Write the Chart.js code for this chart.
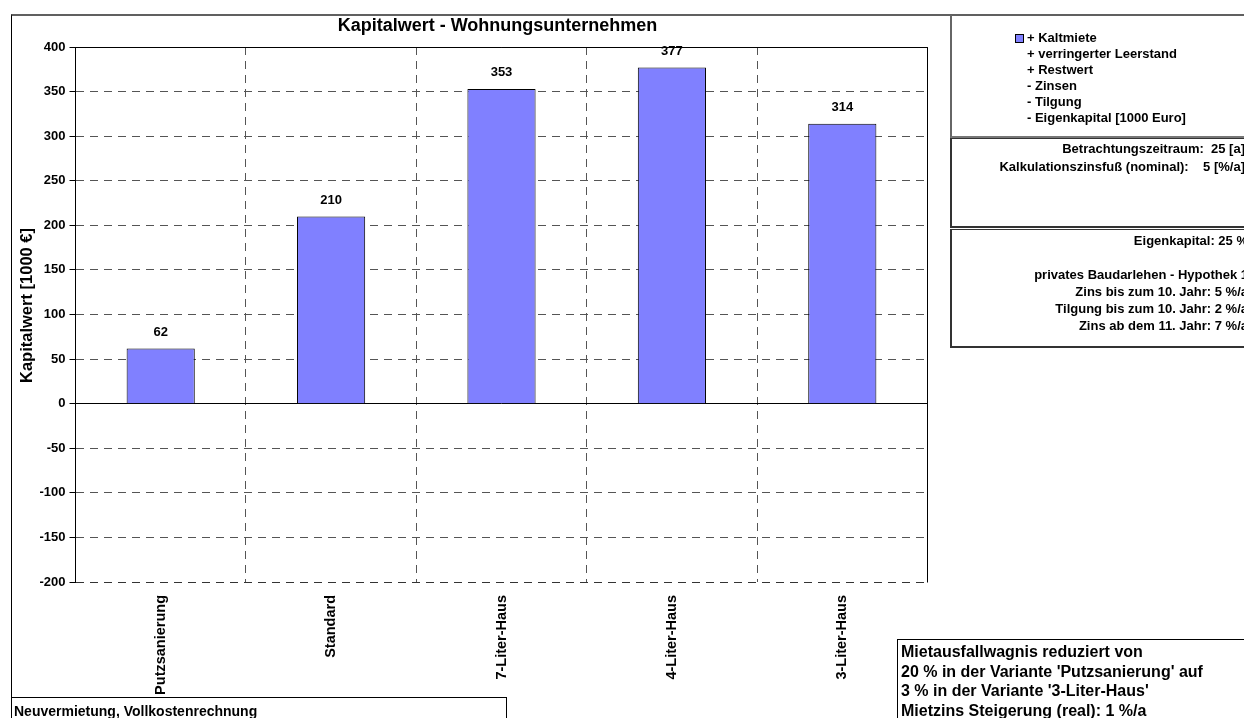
<!DOCTYPE html>
<html><head><meta charset="utf-8">
<script src="https://cdn.jsdelivr.net/npm/chart.js@4"></script>
<style>
html,body{margin:0;padding:0;background:#fff;overflow:hidden;width:1244px;height:718px;}
#wrap{position:relative;width:1244px;height:718px;overflow:hidden;}
canvas{position:absolute;left:0;top:0;}
.box{position:absolute;font-family:"Liberation Sans",Arial,sans-serif;font-weight:bold;color:#000;white-space:nowrap;box-sizing:border-box;}
.box div{white-space:pre;}
</style></head>
<body><div id="wrap">
<div class="box" style="left:11px;top:14px;width:1300px;height:720px;border-top:2px solid #606060;border-left:1px solid #000;"></div>
<canvas id="c" width="1244" height="718"></canvas>

<div class="box" style="left:950px;top:15px;width:320px;height:123px;border-left:2px solid #666;border-bottom:2px solid #777;font-size:13px;line-height:16px;padding-top:15px;padding-left:75px;"><div style="position:relative;"><span style="position:absolute;left:-12px;top:4px;width:7px;height:7px;background:#8080FF;border:1px solid #000;"></span>+ Kaltmiete</div><div>+ verringerter Leerstand</div><div>+ Restwert</div><div>- Zinsen</div><div>- Tilgung</div><div>- Eigenkapital [1000 Euro]</div></div>

<div class="box" style="left:950px;top:138px;width:295px;height:90px;border-left:2px solid #333;border-top:1px solid #333;border-bottom:2px solid #333;font-size:13px;line-height:18px;padding-top:1px;text-align:right;"><div>Betrachtungszeitraum:  25 [a]</div><div>Kalkulationszinsfuß (nominal):    5 [%/a]</div></div>

<div class="box" style="left:950px;top:229px;width:298px;height:119px;border-left:2px solid #333;border-top:1px solid #333;border-bottom:2px solid #333;font-size:13px;line-height:17px;padding-top:2px;text-align:right;"><div>Eigenkapital: 25 %</div><div> </div><div>privates Baudarlehen - Hypothek 1</div><div>Zins bis zum 10. Jahr: 5 %/a</div><div>Tilgung bis zum 10. Jahr: 2 %/a</div><div>Zins ab dem 11. Jahr: 7 %/a</div></div>

<div class="box" style="left:897px;top:639px;width:400px;height:100px;border-left:1px solid #000;border-top:1px solid #000;font-size:16px;line-height:19.5px;padding-top:2px;padding-left:3px;"><div>Mietausfallwagnis reduziert von</div><div>20 % in der Variante 'Putzsanierung' auf</div><div>3 % in der Variante '3-Liter-Haus'</div><div>Mietzins Steigerung (real): 1 %/a</div></div>

<div class="box" style="left:11px;top:697px;width:496px;height:40px;border:1px solid #000;font-size:14px;line-height:16px;padding-top:5px;padding-left:2px;"><div>Neuvermietung, Vollkostenrechnung</div></div>
</div>
<script>
const chartTitle = 'Kapitalwert - Wohnungsunternehmen';
const yAxisTitle = 'Kapitalwert [1000 €]';
const categories = ['Putzsanierung', 'Standard', '7-Liter-Haus', '4-Liter-Haus', '3-Liter-Haus'];
const kapitalwert = [62, 210, 353, 377, 314];
const yTickValues = [-200, -150, -100, -50, 0, 50, 100, 150, 200, 250, 300, 350, 400];

const FONT = '"Liberation Sans", Arial, sans-serif';

const decor = {
  id: 'decor',
  afterDatasetsDraw(chart) {
    const {ctx, chartArea: a} = chart;
    const al = p => Math.round(p - 0.5) + 0.5;
    ctx.save();
    ctx.setLineDash([]);
    ctx.strokeStyle = '#000';
    ctx.lineWidth = 1;
    ctx.beginPath();
    ctx.moveTo(al(a.left), al(a.top));
    ctx.lineTo(al(a.right), al(a.top));
    ctx.lineTo(al(a.right), al(a.bottom));
    ctx.stroke();
    // value labels
    ctx.fillStyle = '#000';
    ctx.font = 'bold 13px ' + FONT;
    ctx.textAlign = 'center';
    ctx.textBaseline = 'middle';
    const meta = chart.getDatasetMeta(0);
    meta.data.forEach((bar, i) => {
      ctx.fillText(String(kapitalwert[i]), bar.x, bar.y - 16);
    });
    // title
    ctx.font = 'bold 18px ' + FONT;
    ctx.fillText(chartTitle, (a.left + a.right) / 2 - 4, 26);
    // y axis title
    ctx.save();
    ctx.translate(27, (a.top + a.bottom) / 2 - 9);
    ctx.rotate(-Math.PI / 2);
    ctx.font = 'bold 16.5px ' + FONT;
    ctx.fillText(yAxisTitle, 0, 0);
    ctx.restore();
    ctx.restore();
  }
};

new Chart(document.getElementById('c'), {
  type: 'bar',
  data: {
    labels: categories,
    datasets: [{
      label: '+ Kaltmiete',
      data: kapitalwert,
      backgroundColor: '#8080FF',
      borderColor: '#000',
      borderWidth: 1,
      categoryPercentage: 1,
      barPercentage: 0.4
    }]
  },
  options: {
    responsive: false,
    animation: false,
    events: [],
    layout: {padding: {left: 11, top: 47, right: 316.5, bottom: 0}},
    plugins: {legend: {display: false}, tooltip: {enabled: false}, title: {display: false}},
    scales: {
      x: {
        offset: true,
        afterFit: s => { s.height = 136; },
        grid: {offset: true, color: '#555', lineWidth: 1, drawTicks: false},
        border: {display: false, dash: [8, 6]},
        ticks: {autoSkip: false, maxRotation: 90, minRotation: 90, padding: 13, color: '#000', font: {family: FONT, size: 14.5, weight: 'bold'}}
      },
      y: {
        min: yTickValues[0],
        max: yTickValues[yTickValues.length - 1],
        afterFit: s => { s.width = 64.5; },
        afterBuildTicks: s => { s.ticks = yTickValues.map(v => ({value: v})); },
        grid: {
          color: c => (c.tick && (c.tick.value === 0 || c.tick.value === 400)) ? '#000' : (c.tick && c.tick.value === -200 ? '#333' : '#555'),
          lineWidth: 1,
          drawTicks: true,
          tickLength: 6,
          tickColor: '#000'
        },
        border: {display: true, color: '#000', width: 1, dash: c => (c.tick && (c.tick.value === 0 || c.tick.value === 400)) ? [] : [8, 6]},
        ticks: {padding: 4, color: '#000', font: {family: FONT, size: 13, weight: 'bold'}},
        title: {display: false}
      }
    }
  },
  plugins: [decor]
});
</script>
</body></html>
